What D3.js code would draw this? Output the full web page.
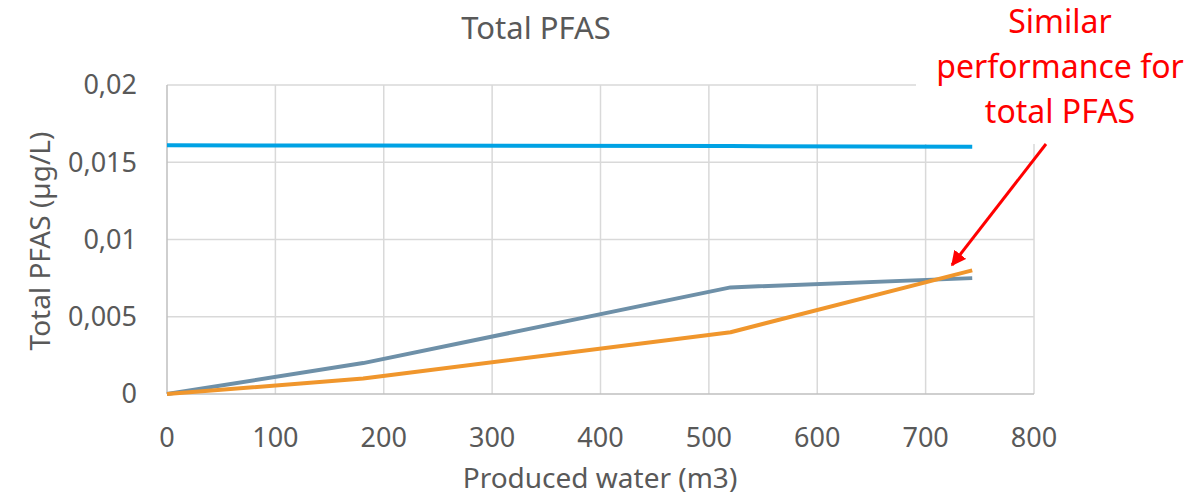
<!DOCTYPE html>
<html lang="en">
<head>
<meta charset="UTF-8" />
<title>Total PFAS</title>
<script src="https://d3js.org/d3.v7.min.js"></script>
<style>
  * { margin: 0; padding: 0; box-sizing: border-box; }
  body { background: #fff; font-family: "Noto Sans", "Open Sans", sans-serif; }
</style>
</head>
<body>
<svg width="1199" height="499"></svg>
<script>
  // Data
  var water = [0, 181, 520, 743];
  var seriesBlue = [0.0161, 0.01608, 0.01605, 0.0160];
  var seriesGrey = [0, 0.0020, 0.0069, 0.0075];
  var seriesOrange = [0, 0.0010, 0.0040, 0.0080];
  var xTicks = [0, 100, 200, 300, 400, 500, 600, 700, 800];
  var yTicks = [0, 0.005, 0.01, 0.015, 0.02];
  var yTickLabels = ["0", "0,005", "0,01", "0,015", "0,02"];
  var annotationLines = ["Similar", "performance for", "total PFAS"];

  var svg = d3.select("svg");
  var textColor = "#595959";

  var xScale = d3.scaleLinear().domain([0, 800]).range([167, 1034]);
  var yScale = d3.scaleLinear().domain([0, 0.02]).range([394, 85]);

  // vertical grid lines
  svg.append("g").selectAll("line")
    .data(xTicks.slice(1))
    .enter().append("line")
    .attr("x1", function(d) { return xScale(d); })
    .attr("x2", function(d) { return xScale(d); })
    .attr("y1", yScale(0))
    .attr("y2", yScale(0.02))
    .attr("stroke", "#d9d9d9")
    .attr("stroke-width", 1.5);

  // horizontal grid lines
  svg.append("g").selectAll("line")
    .data(yTicks.slice(1))
    .enter().append("line")
    .attr("x1", xScale(0))
    .attr("x2", xScale(800))
    .attr("y1", function(d) { return yScale(d); })
    .attr("y2", function(d) { return yScale(d); })
    .attr("stroke", "#d9d9d9")
    .attr("stroke-width", 1.5);

  // axis lines
  svg.append("line")
    .attr("x1", xScale(0)).attr("x2", xScale(0))
    .attr("y1", yScale(0)).attr("y2", yScale(0.02))
    .attr("stroke", "#bfbfbf").attr("stroke-width", 1.5);
  svg.append("line")
    .attr("x1", xScale(0)).attr("x2", xScale(800))
    .attr("y1", yScale(0)).attr("y2", yScale(0))
    .attr("stroke", "#bfbfbf").attr("stroke-width", 1.5);

  // x tick labels
  svg.append("g").selectAll("text")
    .data(xTicks)
    .enter().append("text")
    .attr("x", function(d) { return xScale(d); })
    .attr("y", 447)
    .attr("text-anchor", "middle")
    .attr("font-size", "27px")
    .attr("fill", textColor)
    .text(function(d) { return d; });

  // y tick labels
  svg.append("g").selectAll("text")
    .data(yTicks)
    .enter().append("text")
    .attr("x", 137)
    .attr("y", function(d) { return yScale(d); })
    .attr("dy", "0.35em")
    .attr("text-anchor", "end")
    .attr("font-size", "27px")
    .attr("fill", textColor)
    .text(function(d, i) { return yTickLabels[i]; });

  // lines
  var line = d3.line()
    .x(function(d, i) { return xScale(water[i]); })
    .y(function(d) { return yScale(d); });

  var series = [
    { values: seriesBlue, color: "#00a2e4" },
    { values: seriesGrey, color: "#6e90a8" },
    { values: seriesOrange, color: "#f0962c" }
  ];

  series.forEach(function(s) {
    svg.append("path")
      .datum(s.values)
      .attr("d", line)
      .attr("fill", "none")
      .attr("stroke", s.color)
      .attr("stroke-width", 4)
      .attr("stroke-linejoin", "round");
  });

  // title
  svg.append("text")
    .attr("x", 536)
    .attr("y", 39)
    .attr("text-anchor", "middle")
    .attr("font-size", "31px")
    .attr("fill", textColor)
    .text("Total PFAS");

  // axis titles
  svg.append("text")
    .attr("x", 600)
    .attr("y", 488)
    .attr("text-anchor", "middle")
    .attr("font-size", "28px")
    .attr("fill", textColor)
    .text("Produced water (m3)");

  svg.append("text")
    .attr("transform", "rotate(-90)")
    .attr("x", -241)
    .attr("y", 50)
    .attr("text-anchor", "middle")
    .attr("font-size", "28px")
    .attr("fill", textColor)
    .text("Total PFAS (µg/L)");

  // annotation box (covers the grid behind the text)
  svg.append("rect")
    .attr("x", 916).attr("y", 0)
    .attr("width", 283).attr("height", 144)
    .attr("fill", "#fff");

  svg.append("g").selectAll("text")
    .data(annotationLines)
    .enter().append("text")
    .attr("x", 1060)
    .attr("y", function(d, i) { return 33 + i * 45; })
    .attr("text-anchor", "middle")
    .attr("font-size", "32px")
    .attr("fill", "#ff0000")
    .text(function(d) { return d; });

  // arrow
  svg.append("defs").append("marker")
    .attr("id", "arrow")
    .attr("viewBox", "0 0 10 10")
    .attr("refX", 9).attr("refY", 5)
    .attr("markerWidth", 5).attr("markerHeight", 5)
    .attr("orient", "auto")
    .append("path")
    .attr("d", "M0,0 L10,5 L0,10 z")
    .attr("fill", "#ff0000");

  svg.append("line")
    .attr("x1", 1046).attr("y1", 144)
    .attr("x2", 952).attr("y2", 265)
    .attr("stroke", "#ff0000")
    .attr("stroke-width", 3)
    .attr("marker-end", "url(#arrow)");
</script>
</body>
</html>
